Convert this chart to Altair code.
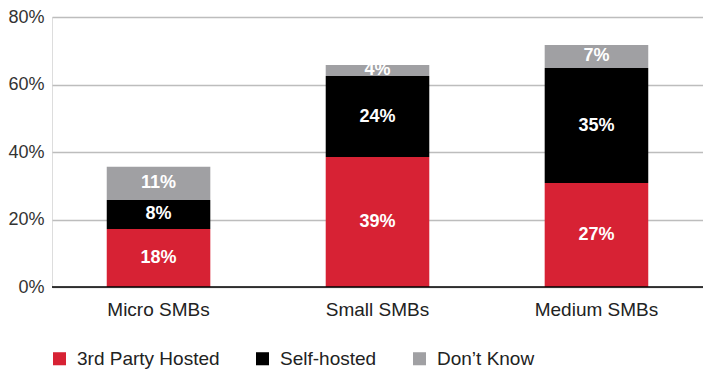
import altair as alt
import pandas as pd

categories = ["Micro SMBs", "Small SMBs", "Medium SMBs"]
series = ["3rd Party Hosted", "Self-hosted", "Don’t Know"]
colors = ["#D72234", "#000000", "#A0A0A3"]

# segment heights
third_party = [17.2, 38.5, 30.8]
self_hosted = [8.6, 24.0, 34.1]
dont_know = [9.8, 3.3, 6.8]

# printed labels
label_third = ["18%", "39%", "27%"]
label_self = ["8%", "24%", "35%"]
label_dk = ["11%", "4%", "7%"]

rows = []
for i, c in enumerate(categories):
    for j, (vals, labs) in enumerate([(third_party, label_third), (self_hosted, label_self), (dont_know, label_dk)]):
        rows.append({"category": c, "series": series[j], "value": vals[i], "label": labs[i], "order": j})
df = pd.DataFrame(rows)

FONT = "Liberation Sans"

x = alt.X("category:N", sort=categories, title=None,
          scale=alt.Scale(paddingInner=0.527, paddingOuter=0.25),
          axis=alt.Axis(labelAngle=0, ticks=False, domain=False, labelFontSize=19,
                        labelPadding=13, labelColor="#222", labelFont=FONT))

bars = alt.Chart(df).mark_bar().encode(
    x=x,
    y=alt.Y("value:Q", stack="zero", title=None,
            scale=alt.Scale(domain=[0, 80]),
            axis=alt.Axis(values=[0, 20, 40, 60, 80], labelExpr="datum.value + '%'",
                          ticks=False, domain=False, labelFontSize=18, labelPadding=8,
                          labelColor="#333", labelFont=FONT, grid=True,
                          gridColor="#BDBDBD", gridWidth=1.5)),
    color=alt.Color("series:N", sort=series,
                    scale=alt.Scale(domain=series, range=colors),
                    legend=alt.Legend(title=None, orient="none", legendX=-2, legendY=332,
                                      direction="horizontal", symbolType="square",
                                      symbolSize=170, symbolStrokeWidth=0,
                                      labelFontSize=19, labelFont=FONT, labelColor="#222",
                                      labelOffset=8, columnPadding=33, labelLimit=300)),
    order=alt.Order("order:Q"),
)

labels = alt.Chart(df).transform_stack(
    stack="value", as_=["y0", "y1"], groupby=["category"], sort=[alt.SortField("order")]
).transform_calculate(
    mid="(datum.y0 + datum.y1) / 2"
).mark_text(color="white", fontWeight="bold", fontSize=18, font=FONT, baseline="middle").encode(
    x=alt.X("category:N", sort=categories),
    y=alt.Y("mid:Q"),
    text="label:N",
)

baseline = alt.Chart(pd.DataFrame({"v": [0]})).mark_rule(color="#000", strokeWidth=1.5).encode(
    y="v:Q", x=alt.value(0), x2=alt.value(651)
)

chart = alt.layer(bars, labels, baseline).properties(
    width=651, height=270,
    autosize=alt.AutoSizeParams(type="none"),
    padding={"left": 52, "top": 17, "right": 0, "bottom": 84},
).configure_view(stroke=None).configure(background="white")

chart.save("out.html", embed_options={"renderer": "svg", "actions": False})
